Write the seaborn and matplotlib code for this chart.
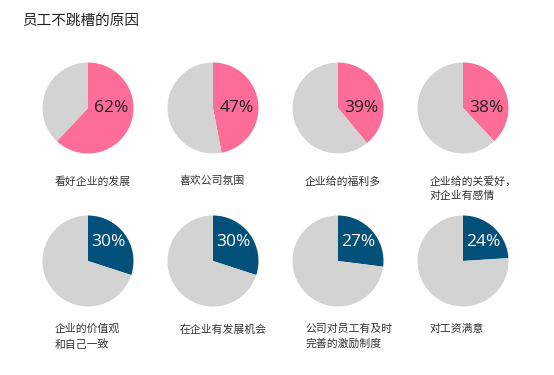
import matplotlib
matplotlib.use("Agg")
import matplotlib.pyplot as plt
import seaborn as sns

sns.set_theme(style="white")
plt.rcParams['font.family'] = ['Noto Sans CJK SC', 'DejaVu Sans']

title = "员工不跳槽的原因"
reasons = ["看好企业的发展", "喜欢公司氛围", "企业给的福利多", "企业给的关爱好，\n对企业有感情",
           "企业的价值观\n和自己一致", "在企业有发展机会", "公司对员工有及时\n完善的激励制度", "对工资满意"]
percents = [62, 47, 39, 38, 30, 30, 27, 24]

pink = "#fe6d98"
navy = "#03507a"
grey = "#d3d3d3"

W, H = 554, 375
fig = plt.figure(figsize=(W / 100, H / 100), dpi=100)
fig.patch.set_facecolor("white")

fig.text(22 / W, 1 - 21 / H, title, fontsize=10.5, color="#222222", va="center", ha="left")

col_x = [88, 213, 338, 463]
row_y = [108, 261]
r = 45.5

for i, (lab, p) in enumerate(zip(reasons, percents)):
    row, col = divmod(i, 4)
    cx, cy = col_x[col], row_y[row]
    ax = fig.add_axes([(cx - r) / W, 1 - (cy + r) / H, 2 * r / W, 2 * r / H])
    accent = pink if row == 0 else navy
    ax.pie([p, 100 - p], colors=[accent, grey], startangle=90, counterclock=False,
           wedgeprops=dict(linewidth=0))
    ax.set_xlim(-1, 1)
    ax.set_ylim(-1, 1)
    ax.set_aspect("equal")
    ax.axis("off")
    ty = 0.0 if row == 0 else 0.42
    tx = 0.52 if row == 0 else 0.45
    ax.text(tx, ty, f"{p}%", ha="center", va="center", fontsize=12.5,
            family=["Open Sans", "DejaVu Sans"],
            color="#222222" if row == 0 else "white")
    lx = cx - 33
    ly = 176 if row == 0 else 324
    fig.text(lx / W, 1 - ly / H, lab, fontsize=7.8, color="#333333",
             ha="left", va="top", linespacing=1.55)

fig.savefig("out.png", dpi=100, facecolor="white")
